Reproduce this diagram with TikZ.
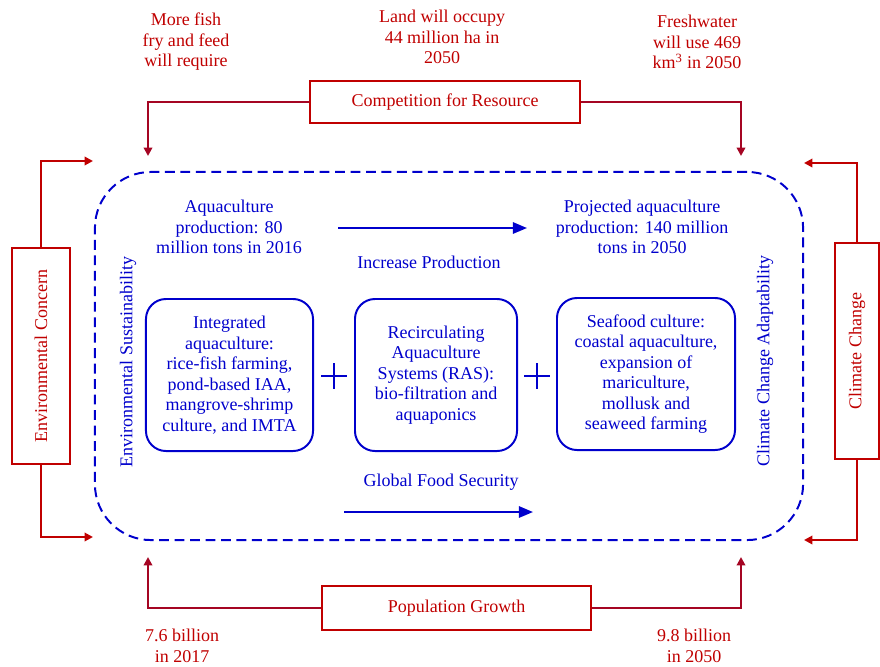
\documentclass[tikz,border=0pt]{standalone}
\usepackage{fontspec}
\setmainfont{Liberation Serif}
\usetikzlibrary{arrows.meta,positioning}

\definecolor{resred}{RGB}{192,0,0}
\definecolor{arrred}{RGB}{165,5,35}
\definecolor{aquablue}{RGB}{0,0,204}

\tikzset{
    txt/.style={font=\fontsize{12.8}{14.6}\selectfont, align=center, inner sep=0pt},
    redtxt/.style={txt, text=resred},
    bluetxt/.style={txt, text=aquablue},
    redbox/.style={redtxt, draw=resred, line width=1.5pt},
    optionbox/.style={bluetxt, draw=aquablue, line width=1.4pt, rounded corners=0.5cm,
        minimum height=3.8cm},
    redarrow/.style={draw=arrred, line width=1.5pt, -{Triangle[length=6pt,width=6pt]}},
    bluearrow/.style={draw=aquablue, line width=1.5pt, -{Triangle[length=10pt,width=8pt]}}
}

\begin{document}
\begin{tikzpicture}[x=0.025cm, y=-0.025cm]
    \useasboundingbox (0,0) rectangle (880,666);

    % ==========================================
    % Central frame
    % ==========================================
    \node[draw=aquablue, line width=1.4pt, dash pattern=on 7pt off 4pt,
        rounded corners=1.4cm, minimum width=17.7cm, minimum height=9.2cm] (frame) at (449,356) {};
    \node[bluetxt, rotate=90] (sustain) at (128,362) {Environmental Sustainability};
    \node[bluetxt, rotate=90] (adapt) at (765,361) {Climate Change Adaptability};

    % Production now and in 2050
    \node[bluetxt] (now) at (229,227) {Aquaculture\\production: 80\\million tons in 2016};
    \node[bluetxt] (proj) at (642,227) {Projected aquaculture\\production: 140 million\\tons in 2050};
    \coordinate (incstart) at (338,228);
    \coordinate (incend) at (527,228);
    \draw[bluearrow] (incstart) -- (incend);
    \node[bluetxt] (increase) at (429,262) {Increase Production};

    % Three culture systems
    \node[optionbox, minimum width=4.175cm] (integ) at (229.5,375) {Integrated\\aquaculture:\\rice-fish farming,\\pond-based IAA,\\mangrove-shrimp\\culture, and IMTA};
    \node[optionbox, minimum width=4.05cm] (ras) at (436,375) {Recirculating\\Aquaculture\\Systems (RAS):\\bio-filtration and\\aquaponics};
    \node[optionbox, minimum width=4.45cm] (seafood) at (646,374) {Seafood culture:\\coastal aquaculture,\\expansion of\\mariculture,\\mollusk and\\seaweed farming};
    \draw[aquablue, line width=1pt] (334,363) -- (334,389) (321,376) -- (347,376);
    \draw[aquablue, line width=1pt] (537,363) -- (537,389) (524,376) -- (550,376);

    % Food security
    \node[bluetxt] (food) at (441,482) {Global Food Security};
    \coordinate (foodstart) at (344,512);
    \coordinate (foodend) at (533,512);
    \draw[bluearrow] (foodstart) -- (foodend);

    % ==========================================
    % Top: Competition for Resource
    % ==========================================
    \node[redbox, minimum width=6.75cm, minimum height=1.05cm] (comp) at (445,102) {Competition for Resource};
    \coordinate (compl) at (148,156);
    \coordinate (compr) at (741,156);
    \draw[redarrow] (comp.west) -| (compl);
    \draw[redarrow] (comp.east) -| (compr);
    \node[redtxt] (fry) at (186,42) {More fish\\fry and feed\\will require};
    \node[redtxt] (land) at (442,37) {Land will occupy\\44 million ha in\\2050};
    \node[redtxt] (water) at (697,42) {Freshwater\\will use 469\\km\textsuperscript{3} in 2050};

    % ==========================================
    % Left: Environmental Concern
    % ==========================================
    \node[redbox, rotate=90, minimum width=5.4cm, minimum height=1.45cm] (envc) at (41,356) {Environmental Concern};
    \coordinate (envtop) at (93,161);
    \coordinate (envbot) at (93,537);
    \draw[redarrow, draw=resred] (envc) |- (envtop);
    \draw[redarrow, draw=resred] (envc) |- (envbot);

    % ==========================================
    % Right: Climate Change
    % ==========================================
    \node[redbox, rotate=90, minimum width=5.4cm, minimum height=1.1cm] (climate) at (857,351) {Climate Change};
    \coordinate (climtop) at (804,163);
    \coordinate (climbot) at (804,540);
    \draw[redarrow, draw=resred] (climate) |- (climtop);
    \draw[redarrow, draw=resred] (climate) |- (climbot);

    % ==========================================
    % Bottom: Population Growth
    % ==========================================
    \node[redbox, minimum width=6.725cm, minimum height=1.1cm] (pop) at (456.5,608) {Population Growth};
    \coordinate (popl) at (148,557);
    \coordinate (popr) at (741,557);
    \draw[redarrow] (pop.west) -| (popl);
    \draw[redarrow] (pop.east) -| (popr);
    \node[redtxt] (pop17) at (182,646) {7.6 billion\\in 2017};
    \node[redtxt] (pop50) at (694,646) {9.8 billion\\in 2050};
\end{tikzpicture}
\end{document}
